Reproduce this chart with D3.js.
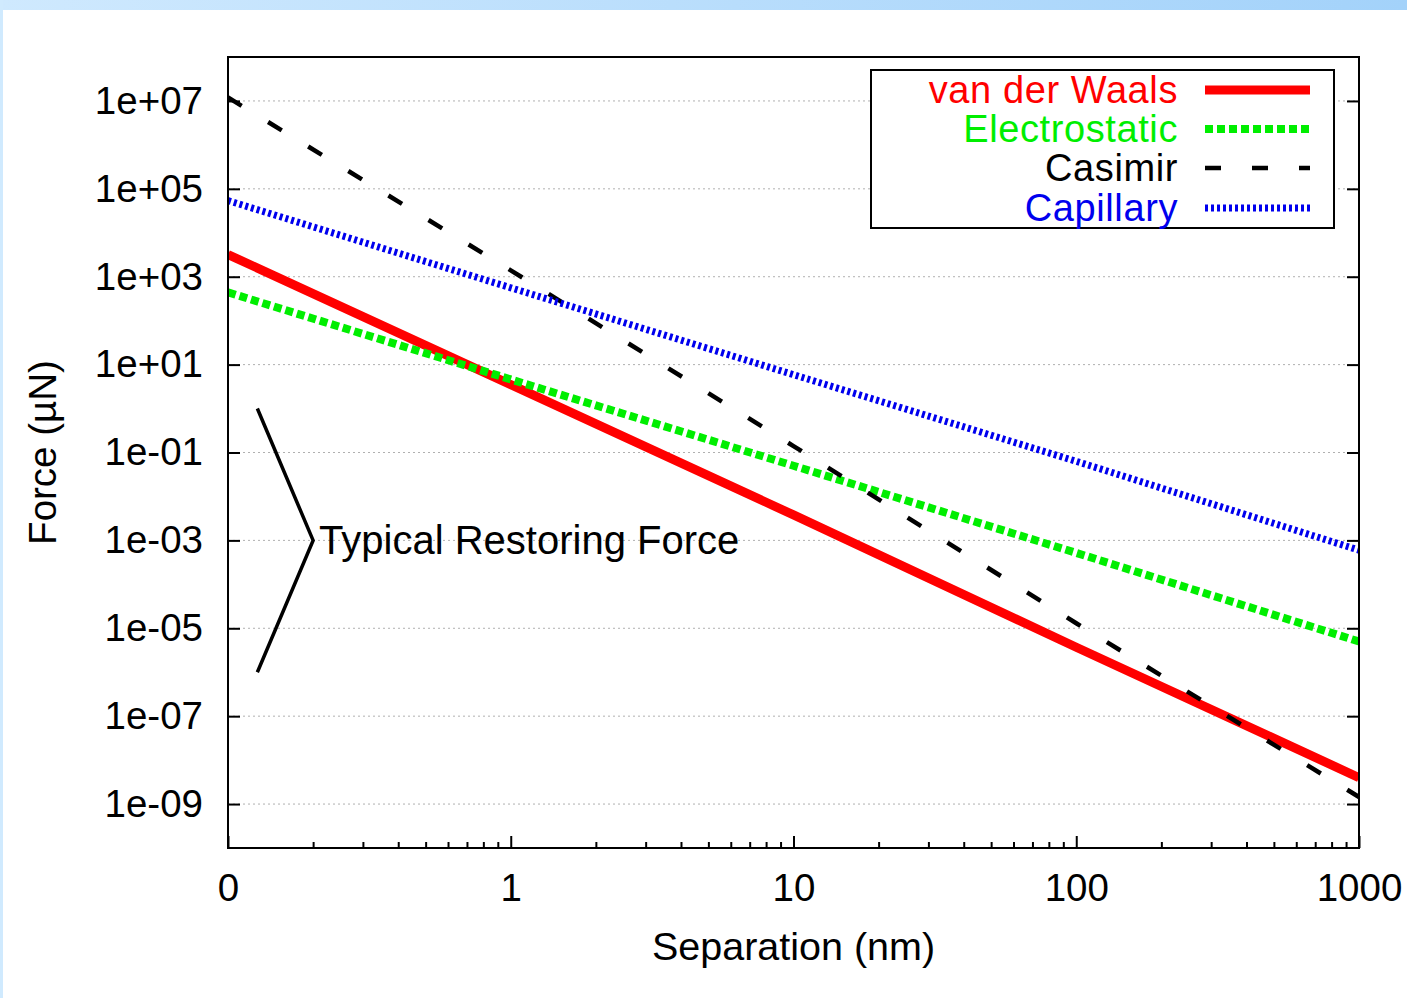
<!DOCTYPE html>
<html>
<head>
<meta charset="utf-8">
<script src="https://cdn.jsdelivr.net/npm/d3@7"></script>
<style>
  html, body { margin: 0; padding: 0; background: #fff; }
  svg { display: block; }
  text { font-family: "Liberation Sans", Arial, Helvetica, sans-serif; }
</style>
</head>
<body>
<svg id="chart" width="1407" height="998"></svg>
<script>
// ---- data ----
const separations = [0.1, 1, 10, 100, 1000];               // nm
const vanDerWaals  = [3.2e3, 3.5, 3.8e-3, 3.7e-6, 4.0e-9];  // µN
const electrostatic = [4.4e2, 4.6, 5.0e-2, 5.2e-4, 5.0e-6];
const casimir      = [1.2e7, 1.4e3, 1.4e-1, 1.3e-5, 1.45e-9];
const capillary    = [5.4e4, 5.6e2, 5.9, 6.3e-2, 6.0e-4];
const seriesNames  = ["van der Waals", "Electrostatic", "Casimir", "Capillary"];
const xTickValues  = [0.1, 1, 10, 100, 1000];
const xTickLabels  = ["0", "1", "10", "100", "1000"];
const yTickValues  = [1e7, 1e5, 1e3, 1e1, 1e-1, 1e-3, 1e-5, 1e-7, 1e-9];
const yTickLabels  = ["1e+07", "1e+05", "1e+03", "1e+01", "1e-01", "1e-03", "1e-05", "1e-07", "1e-09"];
const annotationText = "Typical Restoring Force";
const bracketX = [0.127, 0.2, 0.127];
const bracketY = [1e0, 1e-3, 1e-6];

// ---- layout ----
const svg = d3.select("#chart");
const W = 1407, H = 998;
const L = 228, R = 1359, T = 57, B = 848;

// slide background
const defs = svg.append("defs");
const grad = defs.append("linearGradient").attr("id", "topgrad").attr("x1", "0").attr("x2", "1");
grad.append("stop").attr("offset", "0").attr("stop-color", "#cfe9fe");
grad.append("stop").attr("offset", "1").attr("stop-color", "#a3d2fa");
svg.append("rect").attr("x", 0).attr("y", 0).attr("width", W).attr("height", H).attr("fill", "#fff");
svg.append("rect").attr("x", 0).attr("y", 0).attr("width", W).attr("height", 10).attr("fill", "url(#topgrad)");
svg.append("rect").attr("x", 0).attr("y", 0).attr("width", 3).attr("height", H).attr("fill", "#d0eafe");

const x = d3.scaleLog().domain([0.1, 1000]).range([L, R]);
const y = d3.scaleLog().domain([1e-10, 1e8]).range([B, T]);

defs.append("clipPath").attr("id", "plotclip")
  .append("rect").attr("x", L).attr("y", T).attr("width", R - L).attr("height", B - T);

// grid
svg.append("g").selectAll("line").data(yTickValues).join("line")
  .attr("x1", L).attr("x2", R)
  .attr("y1", d => y(d)).attr("y2", d => y(d))
  .attr("stroke", "#b0b0b0").attr("stroke-width", 1)
  .attr("stroke-dasharray", "2,3");

// axes: bottom
const minorX = [];
[0.1, 1, 10, 100].forEach(dec => { for (let k = 2; k <= 9; k++) minorX.push(dec * k); });
const xAxis = d3.axisBottom(x).tickValues(xTickValues)
  .tickFormat((d, i) => xTickLabels[i]).tickSizeInner(-12).tickSizeOuter(0).tickPadding(26);
const gx = svg.append("g").attr("transform", `translate(0,${B})`).call(xAxis);
gx.select(".domain").remove();
gx.selectAll(".tick line").attr("stroke", "#000").attr("stroke-width", 2);
gx.selectAll(".tick text").attr("font-size", 38.5).attr("fill", "#000")
  .attr("font-family", "Liberation Sans, Arial, sans-serif");
const xMinor = d3.axisBottom(x).tickValues(minorX).tickFormat("").tickSizeInner(-6).tickSizeOuter(0);
const gxm = svg.append("g").attr("transform", `translate(0,${B})`).call(xMinor);
gxm.select(".domain").remove();
gxm.selectAll(".tick line").attr("stroke", "#000").attr("stroke-width", 2);

// axes: left & right
const yAxis = d3.axisLeft(y).tickValues(yTickValues)
  .tickFormat((d, i) => yTickLabels[i]).tickSizeInner(-12).tickSizeOuter(0).tickPadding(25);
const gy = svg.append("g").attr("transform", `translate(${L},0)`).call(yAxis);
gy.select(".domain").remove();
gy.selectAll(".tick line").attr("stroke", "#000").attr("stroke-width", 2);
gy.selectAll(".tick text").attr("font-size", 38.5).attr("fill", "#000")
  .attr("font-family", "Liberation Sans, Arial, sans-serif");
const yAxisR = d3.axisRight(y).tickValues(yTickValues).tickFormat("").tickSizeInner(-12).tickSizeOuter(0);
const gyr = svg.append("g").attr("transform", `translate(${R},0)`).call(yAxisR);
gyr.select(".domain").remove();
gyr.selectAll(".tick line").attr("stroke", "#000").attr("stroke-width", 2);

// series
const seriesData = [vanDerWaals, electrostatic, casimir, capillary];
const styles = [
  { color: "#ff0000", width: 9, dash: null },
  { color: "#00ee00", width: 8, dash: "8,4" },
  { color: "#000000", width: 4.5, dash: "16,31" },
  { color: "#0000ee", width: 7, dash: "3,3" }
];
const line = d3.line().x(d => x(d[0])).y(d => y(d[1]));
const plotG = svg.append("g").attr("clip-path", "url(#plotclip)");
seriesData.forEach((vals, i) => {
  const pts = separations.map((s, j) => [s, vals[j]]);
  const st = styles[i];
  plotG.append("path").datum(pts).attr("d", line)
    .attr("fill", "none").attr("stroke", st.color).attr("stroke-width", st.width)
    .attr("stroke-dasharray", st.dash).attr("stroke-linecap", "butt");
});

// annotation bracket
const bracketPts = bracketX.map((bx, i) => [bx, bracketY[i]]);
svg.append("path").datum(bracketPts).attr("d", line)
  .attr("fill", "none").attr("stroke", "#000").attr("stroke-width", 3.5);
svg.append("text").attr("x", x(0.2) + 6).attr("y", y(1e-3))
  .attr("dy", "0.35em").attr("font-size", 40).attr("fill", "#000")
  .text(annotationText);

// plot border
svg.append("rect").attr("x", L).attr("y", T).attr("width", R - L).attr("height", B - T)
  .attr("fill", "none").attr("stroke", "#000").attr("stroke-width", 2);

// axis titles
svg.append("text").attr("x", (L + R) / 2).attr("y", 960).attr("text-anchor", "middle")
  .attr("font-size", 39.5).attr("fill", "#000").text("Separation (nm)");
svg.append("text").attr("transform", `translate(56,${(T + B) / 2}) rotate(-90)`)
  .attr("text-anchor", "middle").attr("font-size", 38.5).attr("fill", "#000").text("Force (µN)");

// legend
const legX = 871, legY = 70, legW = 463, legH = 158;
const lg = svg.append("g");
lg.append("rect").attr("x", legX).attr("y", legY).attr("width", legW).attr("height", legH)
  .attr("fill", "#fff").attr("stroke", "#000").attr("stroke-width", 2);
const rowY = [90, 129, 168, 208];
seriesNames.forEach((name, i) => {
  const st = styles[i];
  lg.append("text").attr("x", 1178).attr("y", rowY[i]).attr("dy", "0.35em")
    .attr("text-anchor", "end").attr("font-size", 38).attr("letter-spacing", 0.6)
    .attr("fill", st.color).text(name);
  lg.append("line").attr("x1", 1205).attr("x2", 1310).attr("y1", rowY[i]).attr("y2", rowY[i])
    .attr("stroke", st.color).attr("stroke-width", st.width)
    .attr("stroke-dasharray", st.dash).attr("stroke-linecap", "butt");
});
</script>
</body>
</html>
